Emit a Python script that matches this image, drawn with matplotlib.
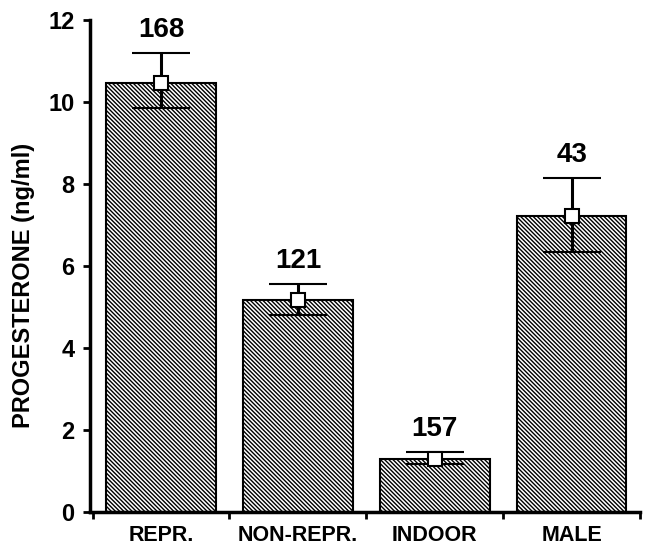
import matplotlib
matplotlib.use("Agg")
import matplotlib.pyplot as plt
import numpy as np

categories = ["REPR.", "NON-REPR.", "INDOOR", "MALE"]
means = [10.47, 5.17, 1.3, 7.22]
upper = [11.2, 5.56, 1.47, 8.15]
lower = [9.85, 4.8, 1.18, 6.34]
n_labels = ["168", "121", "157", "43"]
yticks = [0, 2, 4, 6, 8, 10, 12]

plt.rcParams['font.family'] = ['Liberation Sans', 'DejaVu Sans']
plt.rcParams['font.weight'] = 'bold'
plt.rcParams['hatch.linewidth'] = 1.0

fig = plt.figure(figsize=(6.46, 5.46), dpi=100)
ax = fig.add_axes([0.139, 0.062, 0.852, 0.901])

x = np.arange(len(categories))
ax.bar(x, means, width=0.8, color='white', edgecolor='black', linewidth=1.5,
       hatch='\\' * 8, zorder=2)

yerr = [np.array(means) - np.array(lower), np.array(upper) - np.array(means)]
ax.errorbar(x, means, yerr=yerr, fmt='s', color='black', ecolor='black',
            elinewidth=2.2, capsize=21, capthick=3, markersize=10,
            markerfacecolor='white', markeredgecolor='black', markeredgewidth=1.5,
            zorder=3)

for xi, up, lab in zip(x, upper, n_labels):
    ax.annotate(lab, (xi, up), xytext=(0, 7), textcoords='offset points',
                ha='center', va='bottom', fontsize=20, fontweight='bold')

ax.set_xlim(-0.52, 3.46)
ax.set_ylim(0, 12)
ax.set_yticks(yticks)
ax.set_yticklabels([str(t) for t in yticks], fontsize=17, fontweight='bold')
ax.set_xticks(x)
ax.set_xticklabels(categories, fontsize=15.5, fontweight='bold')
ax.tick_params(axis='x', which='major', length=0, pad=9)
ax.set_xticks([-0.5, 0.5, 1.5, 2.5, 3.5], minor=True)
ax.tick_params(axis='x', which='minor', length=5, width=2, direction='out')
ax.tick_params(axis='y', length=5, width=2, direction='out', pad=6)

for s in ['top', 'right']:
    ax.spines[s].set_visible(False)
for s in ['left', 'bottom']:
    ax.spines[s].set_linewidth(2.5)

ax.set_ylabel("PROGESTERONE (ng/ml)", fontsize=17, fontweight='bold')
ax.yaxis.set_label_coords(-0.1, 0.46)

fig.savefig("out.png", dpi=100)
